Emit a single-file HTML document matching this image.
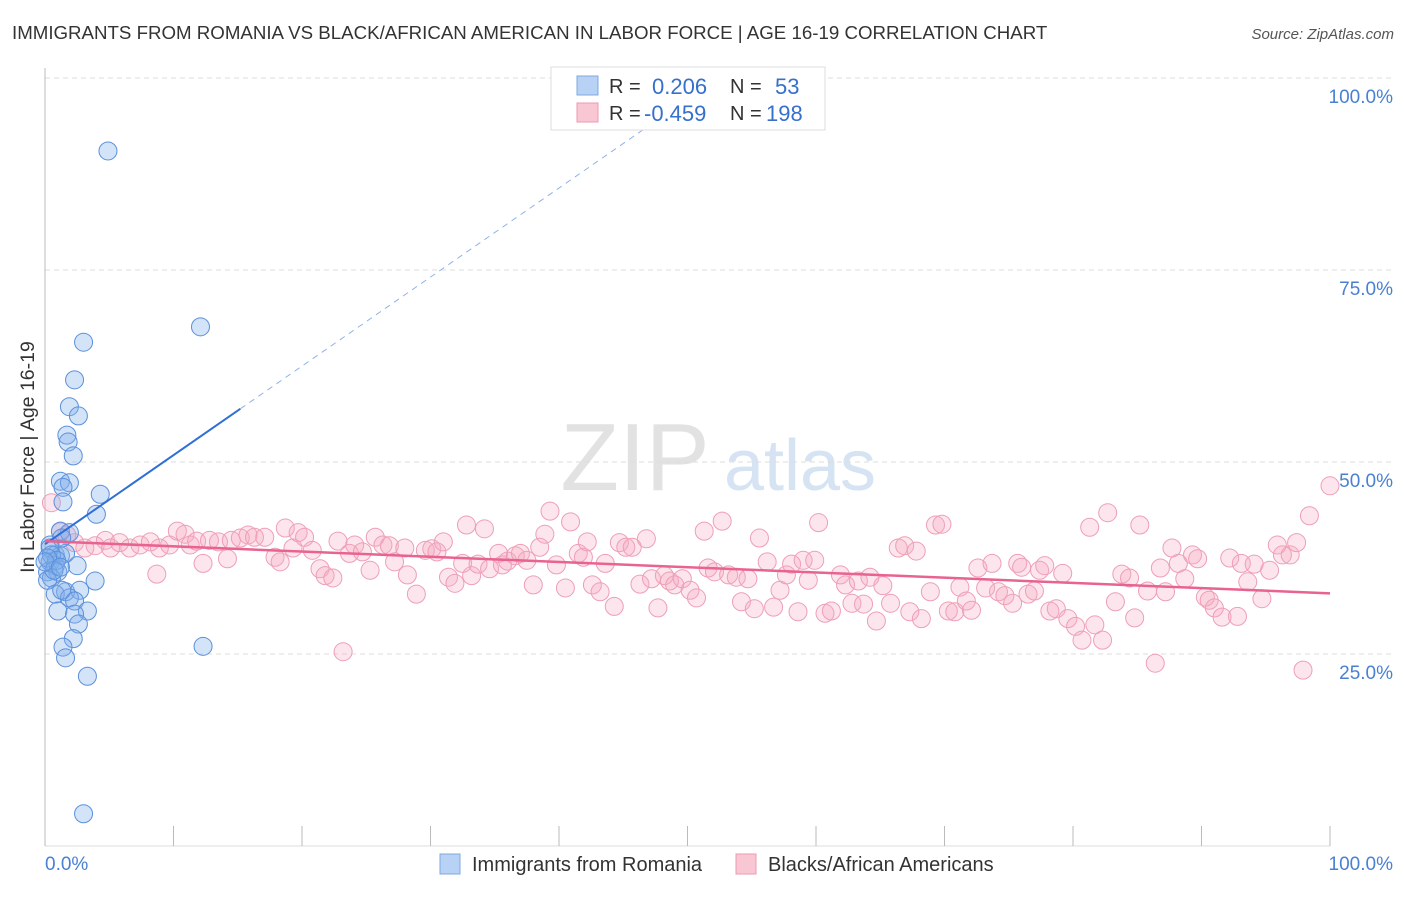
<!DOCTYPE html>
<html><head><meta charset="utf-8"><style>
body{margin:0;background:#fff;font-family:"Liberation Sans",sans-serif}
svg text{font-family:"Liberation Sans",sans-serif}
</style></head><body>
<svg id="chart" width="1406" height="892" viewBox="0 0 1406 892">
<text x="12" y="39" font-size="18.7" fill="#333">IMMIGRANTS FROM ROMANIA VS BLACK/AFRICAN AMERICAN IN LABOR FORCE | AGE 16-19 CORRELATION CHART</text>
<text x="1394" y="39" font-size="15" fill="#555" font-style="italic" text-anchor="end">Source: ZipAtlas.com</text>
<g>
<text x="635" y="490" font-size="96" fill="#e2e2e2" font-family="Liberation Serif" text-anchor="middle">ZIP</text>
<text x="800" y="490" font-size="72" fill="#d5e3f3" text-anchor="middle">atlas</text>
</g>
<g id="grid"></g>
<g id="axes"></g>
<g id="points"></g>
<g id="trends"></g>
<text transform="translate(34,457) rotate(-90)" font-size="19.5" fill="#333" text-anchor="middle">In Labor Force | Age 16-19</text>
<g>
<rect x="551" y="67" width="274" height="63" fill="#fff" stroke="#ddd"/>
<rect x="577" y="76" width="21" height="19" fill="#b7d2f5" stroke="#7ea8e0"/>
<rect x="577" y="103" width="21" height="19" fill="#f9c6d4" stroke="#eb9ab2"/>
<text x="609" y="93" font-size="20" fill="#333">R =</text>
<text x="652" y="94" font-size="22" fill="#3570cc">0.206</text>
<text x="730" y="93" font-size="20" fill="#333">N =</text>
<text x="775" y="94" font-size="22" fill="#3570cc">53</text>
<text x="609" y="120" font-size="20" fill="#333">R =</text>
<text x="644" y="121" font-size="22" fill="#3570cc">-0.459</text>
<text x="730" y="120" font-size="20" fill="#333">N =</text>
<text x="766" y="121" font-size="22" fill="#3570cc">198</text>
</g>
<g>
<rect x="440" y="854" width="20" height="20" fill="#b7d2f5" stroke="#7ea8e0"/>
<text x="472" y="871" font-size="20" fill="#333">Immigrants from Romania</text>
<rect x="736" y="854" width="20" height="20" fill="#f9c6d4" stroke="#eb9ab2"/>
<text x="768" y="871" font-size="20" fill="#333">Blacks/African Americans</text>
</g>
</svg>
<script>
const yTicks=[25,50,75,100];
const yTickLabels=["25.0%","50.0%","75.0%","100.0%"];
const xTicks=[0,10,20,30,40,50,60,70,80,90,100];
const blueX=[4.9,12.1,3.0,2.3,1.9,2.6,1.7,1.8,2.2,1.2,1.9,1.4,4.3,1.4,4.0,0.4,0.8,1.2,1.6,0.4,0.8,0.2,1.0,0.5,0.2,1.2,1.9,1.3,2.5,3.9,1.6,0.8,2.7,1.9,2.3,3.3,1.0,2.3,2.6,2.2,1.4,1.6,12.3,3.3,3.0,0.4,0.5,0.9,0.2,0.7,1.3,0.0,1.2];
const blueY=[90.5,67.6,65.6,60.7,57.2,56.0,53.5,52.6,50.8,47.5,47.3,46.7,45.8,44.8,43.2,39.2,37.9,37.8,38.1,37.0,36.5,35.7,35.7,34.9,34.6,41.0,40.8,40.1,36.5,34.5,33.1,32.8,33.3,32.3,31.9,30.6,30.6,30.2,28.9,27.0,25.9,24.5,26.0,22.1,4.2,38.8,37.9,37.2,37.5,35.9,33.3,37.0,36.3];
const pinkX=[0.5,1.2,1.7,2.3,3.1,3.9,4.7,5.1,5.8,6.6,7.4,8.2,8.7,8.9,9.7,10.3,10.9,11.3,11.8,12.3,12.8,13.5,14.2,14.5,15.2,15.8,16.3,17.1,17.9,18.3,18.7,19.3,19.7,20.2,20.8,21.4,21.8,22.4,22.8,23.2,23.7,24.1,24.7,25.3,25.7,26.3,26.8,27.2,28.0,28.2,28.9,29.6,30.1,30.5,31.0,31.4,31.9,32.5,32.8,33.2,33.7,34.2,34.6,35.3,35.6,36.0,36.6,37.0,37.5,38.0,38.5,38.9,39.3,39.8,40.5,40.9,41.5,41.9,42.2,42.6,43.2,43.6,44.3,44.7,45.2,45.7,46.3,46.8,47.2,47.7,48.2,48.6,49.0,49.6,50.2,50.7,51.3,51.6,52.1,52.7,53.2,53.8,54.2,54.7,55.2,55.6,56.2,56.7,57.2,57.7,58.1,58.6,59.0,59.4,59.9,60.2,60.7,61.2,61.9,62.3,62.8,63.3,63.7,64.2,64.7,65.2,65.8,66.4,66.9,67.3,67.8,68.2,68.9,69.3,69.8,70.3,70.8,71.2,71.7,72.1,72.6,73.2,73.7,74.2,74.7,75.3,75.7,76.0,76.5,77.0,77.4,77.8,78.2,78.7,79.2,79.6,80.2,80.7,81.3,81.7,82.3,82.7,83.3,83.8,84.4,84.8,85.2,85.8,86.4,86.8,87.2,87.7,88.2,88.7,89.3,89.7,90.3,90.6,91.0,91.6,92.2,92.8,93.1,93.6,94.1,94.7,95.3,95.9,96.3,96.9,97.4,97.9,98.4,100];
const pinkY=[44.7,40.9,40.5,39.5,38.8,39.1,39.8,38.8,39.5,38.8,39.2,39.6,35.4,38.8,39.2,41.0,40.6,39.2,39.7,36.8,39.8,39.6,37.4,39.8,40.1,40.5,40.2,40.2,37.6,37.0,41.4,38.8,40.8,40.2,38.5,36.1,35.2,34.9,39.7,25.3,38.1,39.2,38.3,35.9,40.2,39.2,39.1,37.0,38.8,35.3,32.8,38.5,38.7,38.3,39.6,35.0,34.2,36.8,41.8,35.2,36.7,41.3,36.1,38.1,36.6,37.1,37.8,38.1,37.2,34.0,38.9,40.6,43.6,36.6,33.6,42.2,38.1,37.6,39.6,34.0,33.1,36.8,31.2,39.5,38.9,38.9,34.1,40.0,34.8,31.0,35.2,34.5,34.0,34.8,33.3,32.3,41.0,36.2,35.7,42.3,35.3,35.0,31.8,34.8,30.9,40.1,37.0,31.1,33.3,35.3,36.7,30.5,37.2,34.6,37.2,42.1,30.3,30.6,35.3,34.0,31.6,34.5,31.5,35.0,29.3,33.9,31.6,38.8,39.1,30.5,38.4,29.6,33.1,41.8,41.9,30.6,30.5,33.7,31.9,30.7,36.2,33.6,36.8,33.1,32.6,31.6,36.8,36.3,32.8,33.2,35.9,36.5,30.6,30.9,35.5,29.6,28.6,26.8,41.5,28.8,26.8,43.4,31.8,35.4,34.9,29.7,41.8,33.2,23.8,36.2,33.1,38.8,36.8,34.8,37.9,37.4,32.4,32.0,31.0,29.8,37.5,29.9,36.8,34.4,36.7,32.2,35.9,39.2,37.9,37.9,39.5,22.9,43.0,46.9];
const blueTrend={x0:0,y0:39.3,x1:50.2,y1:97.5,solidEnd:15.2};
const pinkTrend={x0:0,y0:39.7,x1:100,y1:32.9};

const NS="http://www.w3.org/2000/svg";
const X=v=>45+v*12.85;
const Y=v=>846-v*7.68;
function mk(tag,attrs,parent){const e=document.createElementNS(NS,tag);for(const k in attrs)e.setAttribute(k,attrs[k]);parent.appendChild(e);return e;}
const grid=document.getElementById('grid'),axes=document.getElementById('axes'),pts=document.getElementById('points'),tr=document.getElementById('trends');
yTicks.forEach((t,i)=>{
 const l=mk('line',{x1:45,x2:1394,y1:Y(t),y2:Y(t),stroke:'#ddd','stroke-dasharray':'5,4'},grid);
 
 
 const tx=mk('text',{x:1393,y:Y(t)+25,'font-size':19,fill:'#4a80d2','text-anchor':'end'},grid);
 tx.textContent=yTickLabels[i];
 
 
});
const ya=mk('line',{x1:45,x2:45,y1:68,y2:846,stroke:'#bbb'},axes);


const xa=mk('line',{x1:45,x2:1330,y1:846,y2:846,stroke:'#ddd'},axes);


xTicks.forEach(t=>{
 const l=mk('line',{x1:X(t),x2:X(t),y1:826,y2:846,stroke:'#bbb'},axes);
 
 
});
const xl0=mk('text',{x:45,y:870,'font-size':19,fill:'#4a80d2'},axes);xl0.textContent='0.0%';


const xl1=mk('text',{x:1393,y:870,'font-size':19,fill:'#4a80d2','text-anchor':'end'},axes);xl1.textContent='100.0%';



pinkX.forEach((x,i)=>{
 const c=mk('circle',{cx:X(x),cy:Y(pinkY[i]),r:9,fill:'rgba(246,170,192,0.3)',stroke:'#ee9fb7','stroke-width':1},pts);
 
 
});
blueX.forEach((x,i)=>{
 const c=mk('circle',{cx:X(x),cy:Y(blueY[i]),r:9,fill:'rgba(130,176,235,0.35)',stroke:'#5b90db','stroke-width':1},pts);
 
 
});
const bs=(blueTrend.y1-blueTrend.y0)/(blueTrend.x1-blueTrend.x0);
const bsy=blueTrend.y0+bs*blueTrend.solidEnd;
const b1=mk('line',{x1:X(blueTrend.x0),y1:Y(blueTrend.y0),x2:X(blueTrend.solidEnd),y2:Y(bsy),stroke:'#2f6fd6','stroke-width':2},tr);


const b2=mk('line',{x1:X(blueTrend.solidEnd),y1:Y(bsy),x2:X(blueTrend.x1),y2:Y(blueTrend.y1),stroke:'#8fb3e8','stroke-width':1,'stroke-dasharray':'6,5'},tr);


const p1=mk('line',{x1:X(pinkTrend.x0),y1:Y(pinkTrend.y0),x2:X(pinkTrend.x1),y2:Y(pinkTrend.y1),stroke:'#e8638f','stroke-width':2.5},tr);


</script>
</body></html>
